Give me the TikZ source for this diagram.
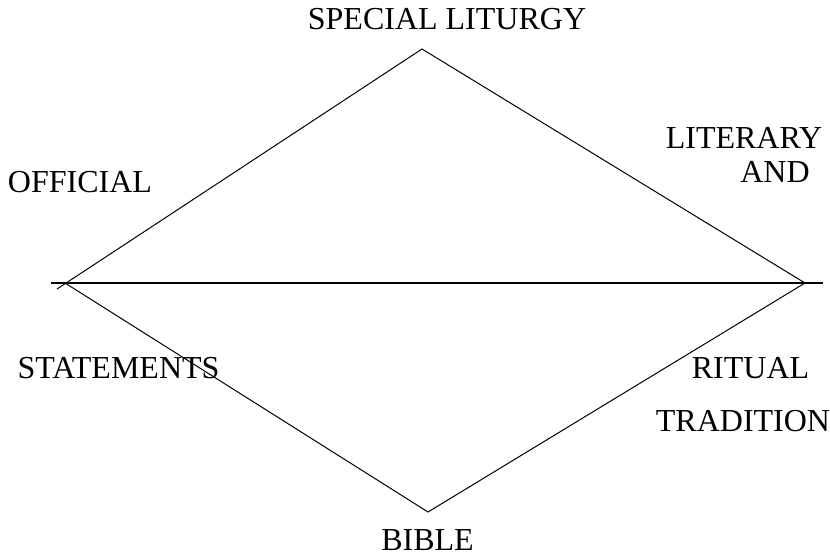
\documentclass[tikz,border=0pt]{standalone}
\usepackage{fontspec}
\setmainfont{Liberation Serif}
\usetikzlibrary{positioning}

\begin{document}
\begin{tikzpicture}[x=0.75pt, y=-0.75pt,
		lbl/.style = {inner sep=0pt, anchor=base, font=\fontsize{24}{28}\selectfont},
		edge/.style = {line width=0.75pt}]
		\useasboundingbox (0,0) rectangle (830,557);
		% corners of the diamond
		\coordinate (top) at (422,49);
		\coordinate (left) at (65,283);
		\coordinate (right) at (805,283);
		\coordinate (bottom) at (428,512);
		\coordinate (leftstub) at (57,289);
		\coordinate (axisL) at (51,283);
		\coordinate (axisR) at (823,283);
	
		\node[lbl] (liturgy) at (447,29) {SPECIAL LITURGY};
		\node[lbl] (official) at (80,192) {OFFICIAL};
		\node[lbl] (literary) at (744,148) {LITERARY};
		\node[lbl] (and) at (775,182) {AND};
		\node[lbl] (statements) at (118.5,378) {STATEMENTS};
		\node[lbl] (ritual) at (750.5,378) {RITUAL};
		\node[lbl] (tradition) at (743,431) {TRADITION};
		\node[lbl] (bible) at (427.5,550) {BIBLE};
	
		\draw [line width=1.5pt] (axisL) -- (axisR);
		\draw [edge] (leftstub) -- (top) -- (right) -- (bottom) -- (left);
		\end{tikzpicture}
\end{document}
